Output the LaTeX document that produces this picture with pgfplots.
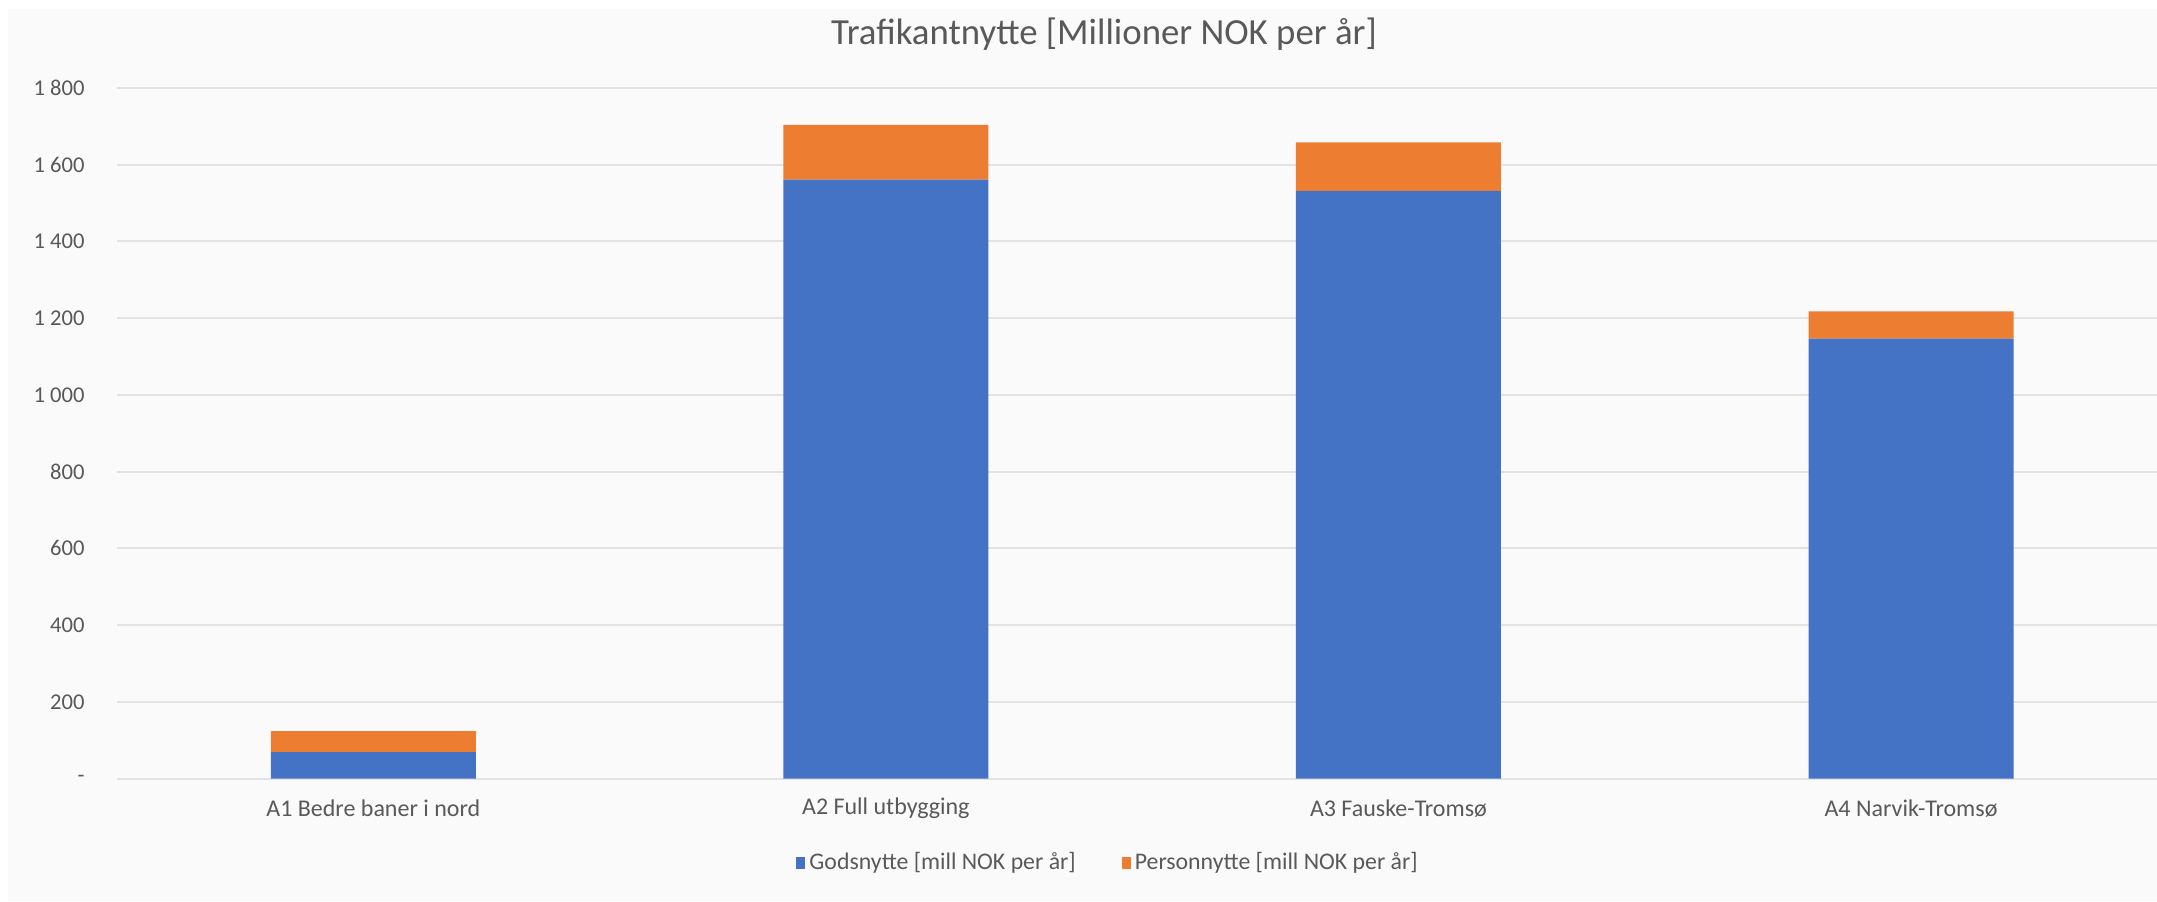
\documentclass[border=0pt]{standalone}
\usepackage{pgfplots}
\pgfplotsset{compat=1.18}
\usepackage{fontspec}
\setmainfont{Carlito}
\definecolor{gods}{HTML}{4472C4}
\definecolor{pers}{HTML}{ED7D31}
\definecolor{gridc}{HTML}{E3E3E3}
\definecolor{txt}{HTML}{595959}
\definecolor{bg}{HTML}{FAFAFA}
\begin{document}
\begin{tikzpicture}
\useasboundingbox (0,0) rectangle (1078.5pt,450.5pt);
\fill[bg] (4pt,0) rectangle (1078.5pt,446pt);
\node[text=txt, font=\fontsize{18.4}{22}\selectfont] at (552pt,433.5pt) {Trafikantnytte [Millioner NOK per år]};
\begin{axis}[
  at={(58.5pt,61.2pt)}, anchor=south west,
  width=1020pt, height=345.3pt, scale only axis,
  ybar stacked, bar width=102.5pt,
  enlargelimits=false,
  xmin=-0.5, xmax=3.48, ymin=0, ymax=1800,
  xtick={0,1,2,3},
  xticklabels={A1 Bedre baner i nord, A2 Full utbygging, A3 Fauske-Tromsø, A4 Narvik-Tromsø},
  ytick={0,200,...,1800},
  yticklabels={-,200,400,600,800,1 000,1 200,1 400,1 600,1 800},
  ymajorgrids, grid style={draw=gridc, line width=1pt},
  axis line style={draw=none},
  major tick length=0pt,
  xticklabel style={anchor=center, yshift=-15pt, text=txt, font=\fontsize{12}{14}\selectfont},
  yticklabel style={anchor=east, inner sep=0pt, xshift=-16pt, text=txt, font=\fontsize{11.3}{13}\selectfont},
  legend columns=2,
  legend style={draw=none, fill=none, at={(0.4863,-0.1215)}, anchor=center,
    font=\fontsize{11.9}{14}\selectfont, text=txt,
    /tikz/every even column/.append style={column sep=21pt}},
  legend image code/.code={\fill[#1,draw=none] (0pt,-3pt) rectangle (4.5pt,3pt);},
]
\addplot[fill=gods, draw=none] coordinates {(0,69) (1,1561) (2,1532) (3,1147)};
\addplot[fill=pers, draw=none] coordinates {(0,55) (1,143) (2,126) (3,71)};
\legend{Godsnytte [mill NOK per år], Personnytte [mill NOK per år]}
\end{axis}
\end{tikzpicture}
\end{document}
